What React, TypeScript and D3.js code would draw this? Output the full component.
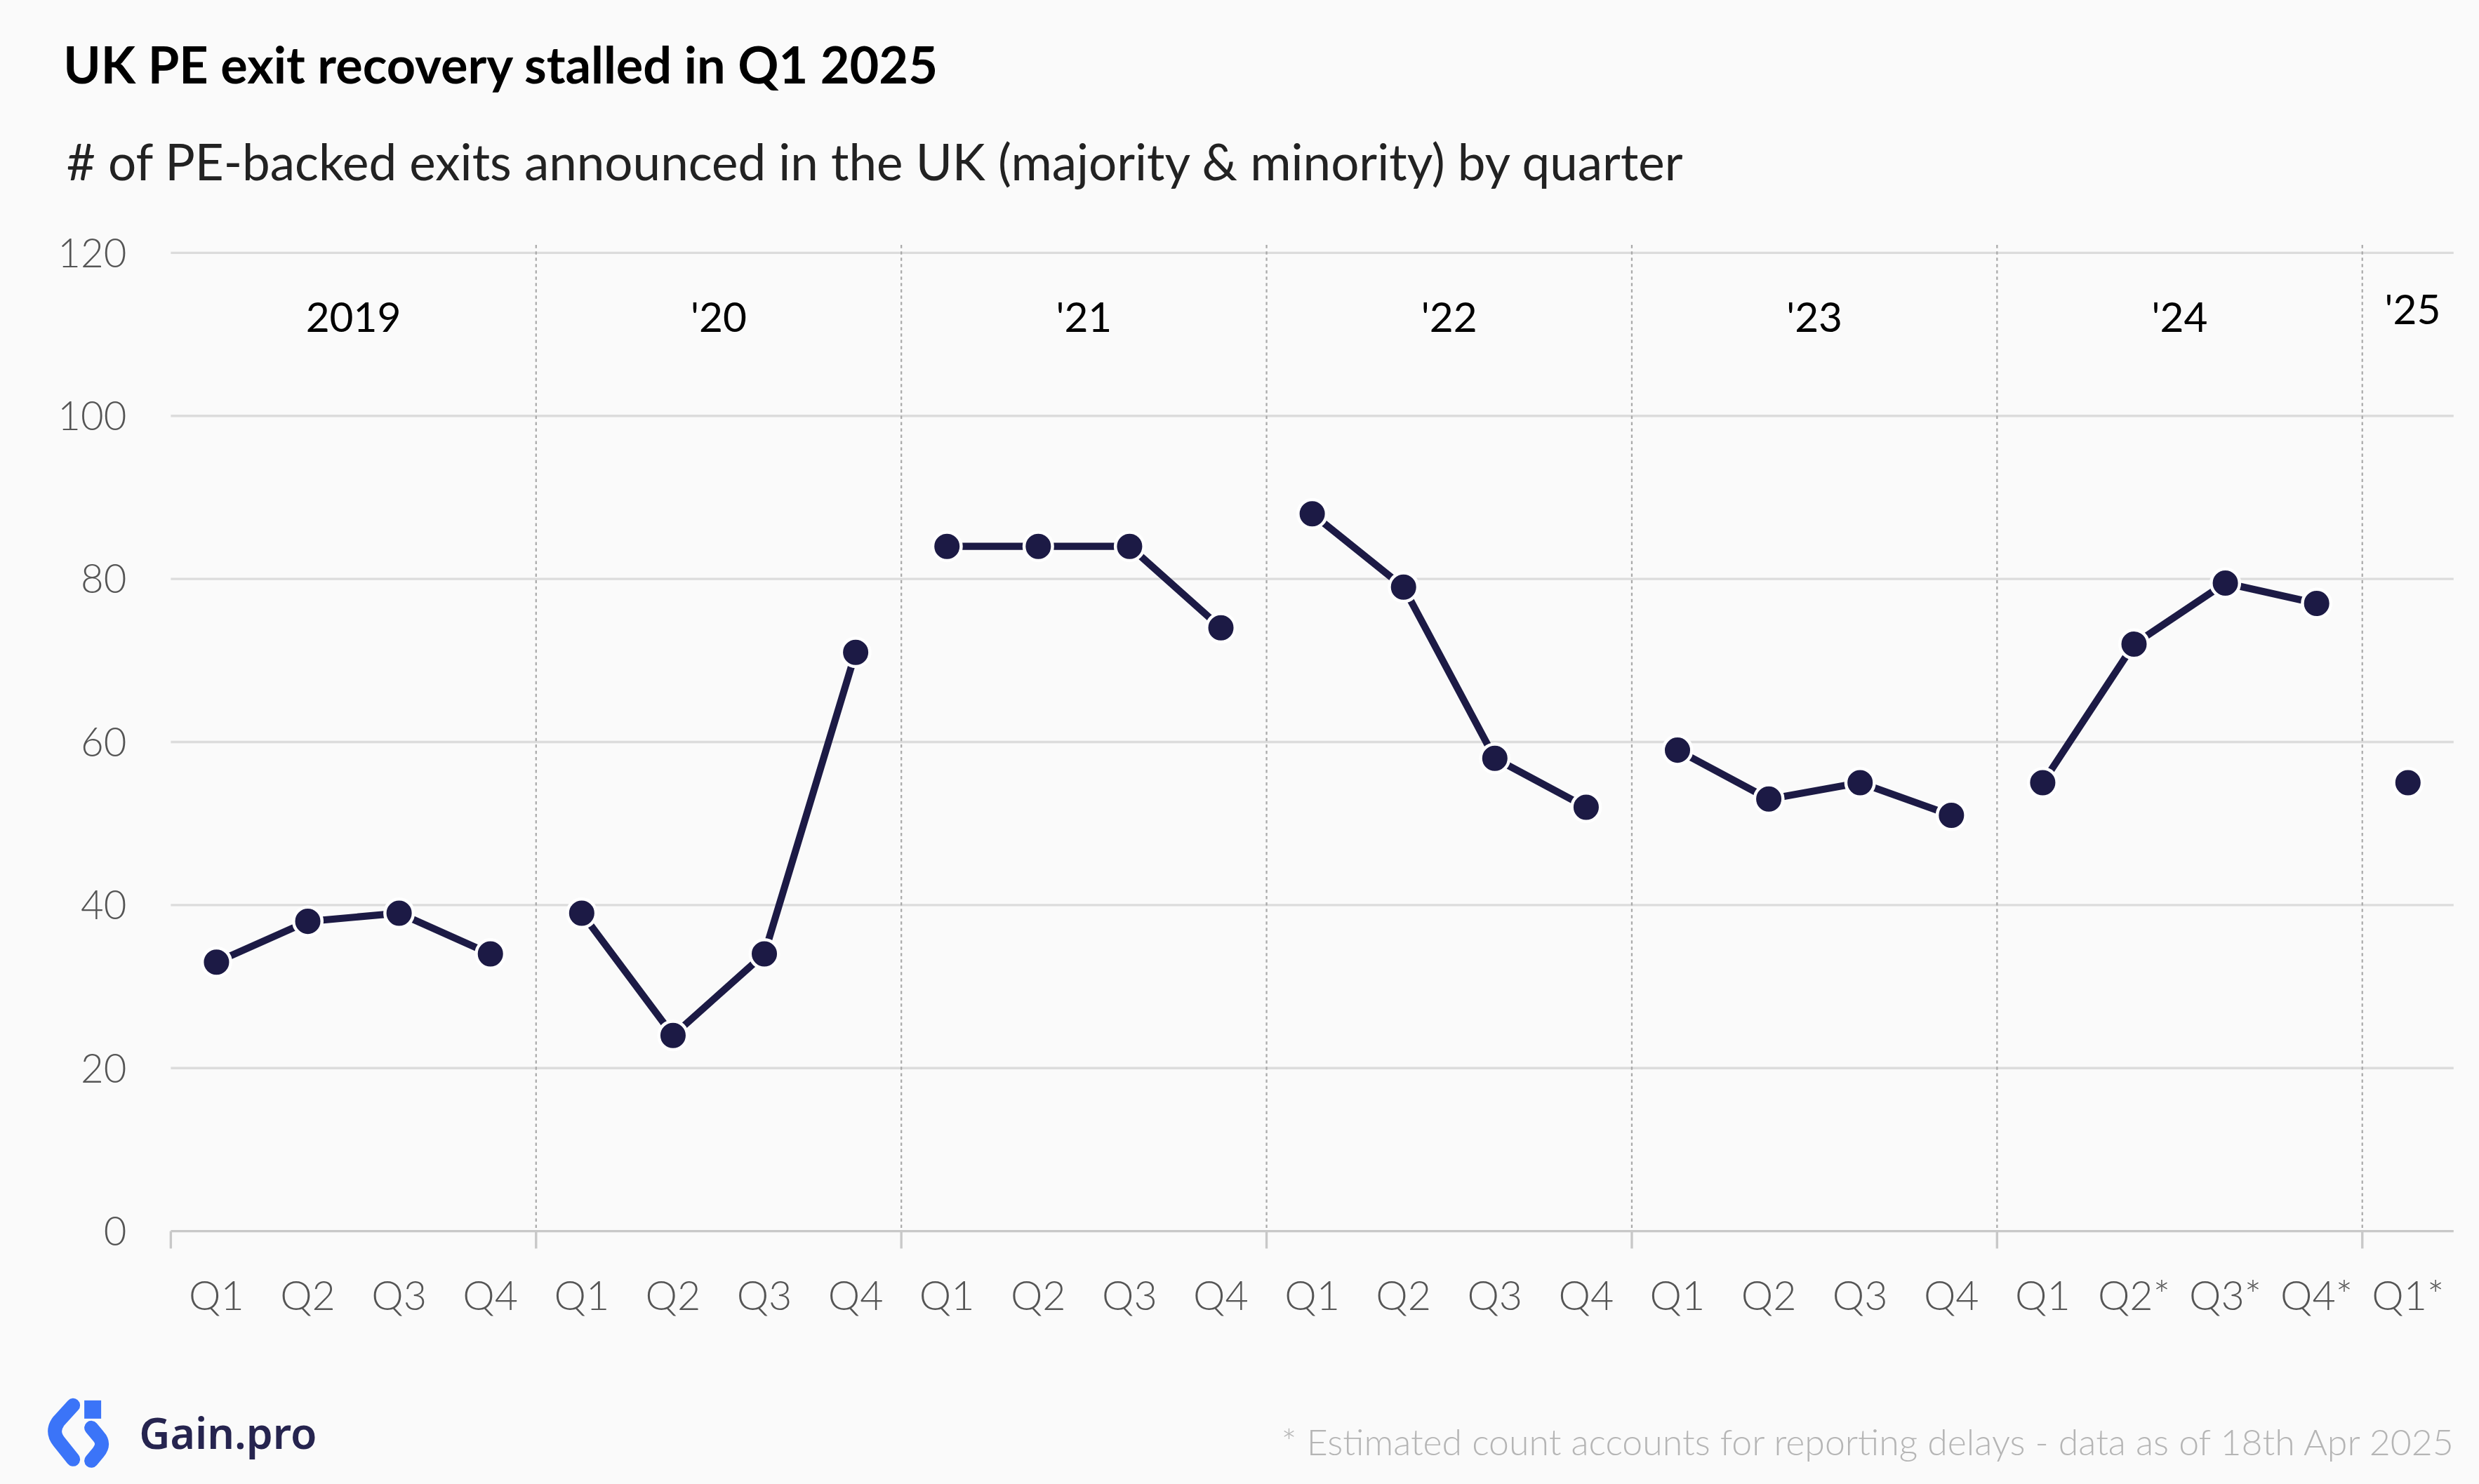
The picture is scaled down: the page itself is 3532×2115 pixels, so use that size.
import * as d3 from 'd3'

const years = ['2019', "'20", "'21", "'22", "'23", "'24", "'25"]
const quarterLabels = [
  'Q1', 'Q2', 'Q3', 'Q4', 'Q1', 'Q2', 'Q3', 'Q4', 'Q1', 'Q2', 'Q3', 'Q4',
  'Q1', 'Q2', 'Q3', 'Q4', 'Q1', 'Q2', 'Q3', 'Q4', 'Q1', 'Q2*', 'Q3*', 'Q4*', 'Q1*',
]
const exits = [
  [33, 38, 39, 34],
  [39, 24, 34, 71],
  [84, 84, 84, 74],
  [88, 79, 58, 52],
  [59, 53, 55, 51],
  [55, 72, 79.5, 77],
  [55],
]
const yTicks = [0, 20, 40, 60, 80, 100, 120]

const W = 1568
const H = 939
const font = 'Lato, "Noto Sans", sans-serif'
const navy = '#1c1a45'

export default function App() {
  const idx = d3.range(quarterLabels.length)
  const x = d3.scaleBand<number>().domain(idx).range([108, 1552])
  const y = d3.scaleLinear().domain([0, 120]).range([779, 160])
  const cx = (i: number) => (x(i) ?? 0) + x.bandwidth() / 2
  const line = d3.line<{ i: number; v: number }>().x(d => cx(d.i)).y(d => y(d.v))

  let start = 0
  const groups = exits.map((vals, g) => {
    const pts = vals.map((v, k) => ({ i: start + k, v }))
    const s = start
    start += vals.length
    return { year: years[g], pts, s, e: start }
  })

  return (
    <svg
      width={3532}
      height={2115}
      viewBox={`0 0 ${W} ${H}`}
      style={{ position: 'absolute', left: 0, top: 0, background: '#fafafa' }}
    >
      <rect width={W} height={H} fill="#fafafa" />
      <text x={40} y={53} fontFamily={font} fontWeight={700} fontSize={32} fill="#000">
        UK PE exit recovery stalled in Q1 2025
      </text>
      <text x={42} y={114} fontFamily={font} fontWeight={400} fontSize={31.5} fill="#222">
        # of PE-backed exits announced in the UK (majority &amp; minority) by quarter
      </text>

      {yTicks.map(t => (
        <g key={t}>
          {t > 0 && <line x1={108} x2={1552} y1={y(t)} y2={y(t)} stroke="#dcdcdc" strokeWidth={1.5} />}
          <text x={80} y={y(t) + 9} textAnchor="end" fontFamily={font} fontWeight={300} fontSize={25} fill="#555">
            {t}
          </text>
        </g>
      ))}

      {groups.slice(1).map(g => (
        <line key={g.year} x1={x(g.s)} x2={x(g.s)} y1={155} y2={779} stroke="#aaa" strokeWidth={1} strokeDasharray="2,2" />
      ))}
      <line x1={108} x2={1552} y1={y(0)} y2={y(0)} stroke="#c8c8c8" strokeWidth={1.5} />
      {groups.map(g => (
        <line key={'t' + g.year} x1={x(g.s)} x2={x(g.s)} y1={779} y2={790} stroke="#c8c8c8" strokeWidth={1.5} />
      ))}

      {quarterLabels.map((q, i) => (
        <text key={i} x={cx(i)} y={829} textAnchor="middle" fontFamily={font} fontWeight={300} fontSize={25.5} fill="#555">
          {q}
        </text>
      ))}

      {groups.map(g => {
        const last = g.e - g.s === 1
        const mx = last ? cx(g.s) + 3 : ((x(g.s) ?? 0) + (x(g.e - 1) ?? 0) + x.bandwidth()) / 2
        return (
          <text key={'y' + g.year} x={mx} y={last ? 205 : 210} textAnchor="middle" fontFamily={font} fontSize={26} fill="#000">
            {g.year}
          </text>
        )
      })}

      {groups.map(g => (
        <g key={'l' + g.year}>
          {g.pts.length > 1 && <path d={line(g.pts) ?? ''} fill="none" stroke={navy} strokeWidth={4.5} />}
          {g.pts.map(p => (
            <circle key={p.i} cx={cx(p.i)} cy={y(p.v)} r={9} fill={navy} stroke="#fff" strokeWidth={2} />
          ))}
        </g>
      ))}

      <g transform={`scale(${W / 3532})`} fill="none" stroke="#3b74f8" strokeWidth={20} strokeLinejoin="round" strokeLinecap="round">
        <path d="M104,2003 L84,2025 Q72,2040 84,2055 L104,2080" />
        <path d="M132,2008 L132,2010" strokeWidth={24} strokeLinecap="square" />
        <path d="M130,2035 L140,2047 Q150,2058 140,2070 L130,2082" />
      </g>
      <text x={88} y={917} fontFamily={'"Noto Sans", sans-serif'} fontWeight={600} fontSize={27} fill="#26244f">
        Gain.pro
      </text>
      <text x={1552} y={921} textAnchor="end" fontFamily={font} fontWeight={300} fontSize={23} fill="#b5b5b5">
        * Estimated count accounts for reporting delays - data as of 18th Apr 2025
      </text>
    </svg>
  )
}
